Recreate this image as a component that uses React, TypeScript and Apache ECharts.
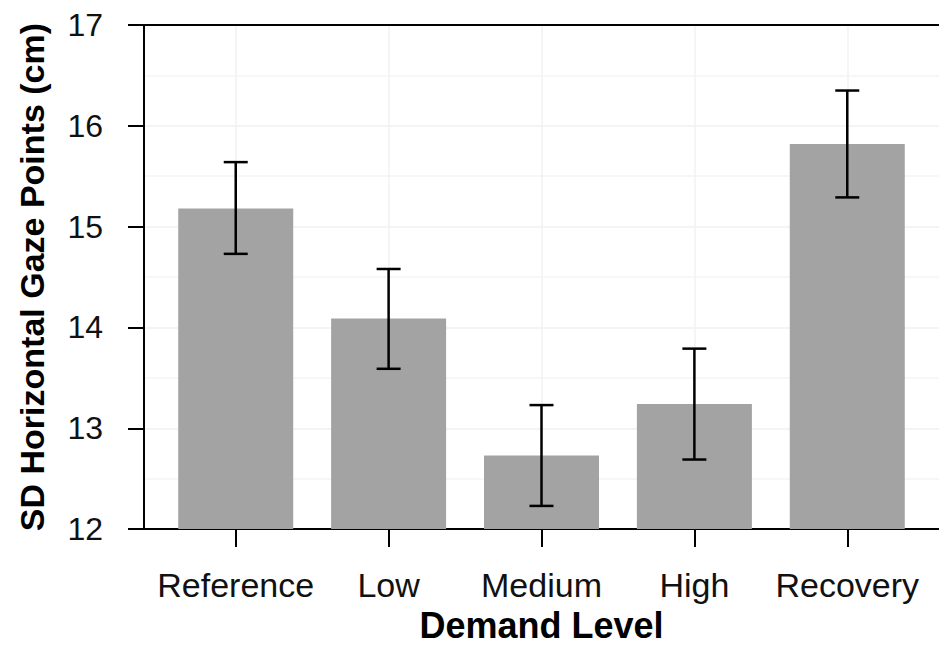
import React, { useEffect, useRef } from "react";
import * as echarts from "echarts";

const categories = ["Reference", "Low", "Medium", "High", "Recovery"];
const positions = [1, 2, 3, 4, 5];
const means = [15.18, 14.09, 12.73, 13.24, 15.82];
const errLow = [14.73, 13.59, 12.23, 12.69, 15.29];
const errHigh = [15.64, 14.58, 13.23, 13.79, 16.35];
const yTicks = [12, 13, 14, 15, 16, 17];

const FONT = "'Liberation Sans', Arial, sans-serif";

export default function App() {
  const ref = useRef<HTMLDivElement>(null);
  useEffect(() => {
    if (!ref.current) return;
    const chart = echarts.init(ref.current, null, { renderer: "svg" });
    const option: any = {
      animation: false,
      backgroundColor: "#ffffff",
      grid: { left: 144, top: 25, width: 801, height: 510 },
      xAxis: [
        {
          type: "value",
          min: 0.4,
          max: 5.6,
          name: "Demand Level",
          nameLocation: "middle",
          nameGap: 75,
          nameTextStyle: { fontFamily: FONT, fontSize: 36, fontWeight: "bold", color: "#000" },
          axisLine: { show: true, onZero: false, lineStyle: { color: "#000", width: 2 } },
          axisTick: { show: true, length: 18, lineStyle: { color: "#000", width: 2 }, customValues: positions },
          axisLabel: {
            customValues: positions,
            margin: 39,
            fontFamily: FONT,
            fontSize: 34,
            color: "#111",
            formatter: (v: number) => categories[Math.round(v) - 1] ?? "",
          },
          splitLine: { show: false },
        },
        {
          type: "value",
          position: "top",
          min: 0.4,
          max: 5.6,
          axisLine: { show: true, onZero: false, lineStyle: { color: "#000", width: 2 } },
          axisTick: { show: false },
          axisLabel: { show: false },
          splitLine: { show: false },
        },
      ],
      yAxis: {
        type: "value",
        min: 12,
        max: 17,
        interval: 1,
        name: "SD Horizontal Gaze Points (cm)",
        nameLocation: "middle",
        nameGap: 95,
        nameTextStyle: { fontFamily: FONT, fontSize: 34, fontWeight: "bold", color: "#000" },
        axisLine: { show: true, onZero: false, lineStyle: { color: "#000", width: 2 } },
        axisTick: { show: true, length: 16, lineStyle: { color: "#000", width: 2 } },
        axisLabel: {
          margin: 41,
          fontFamily: FONT,
          fontSize: 32,
          color: "#111",
          formatter: (v: number) => (yTicks.includes(v) ? String(v) : ""),
        },
        splitLine: { show: true, lineStyle: { color: "#f0f0f0", width: 1.5 } },
        minorTick: { show: false, splitNumber: 2 },
        minorSplitLine: { show: true, lineStyle: { color: "#f5f5f5", width: 1.5 } },
      },
      series: [
        {
          type: "bar",
          xAxisIndex: 0,
          barWidth: 115,
          itemStyle: { color: "#a3a3a3" },
          data: positions.map((p, i) => [p, means[i]]),
          markLine: {
            silent: true,
            symbol: "none",
            label: { show: false },
            z: 0,
            lineStyle: { color: "#f2f2f2", width: 1.5, type: "solid" },
            data: positions.map((p) => ({ xAxis: p })),
          },
        },
        {
          type: "custom",
          xAxisIndex: 0,
          z: 5,
          data: positions.map((p, i) => [p, errLow[i], errHigh[i]]),
          renderItem: (params: any, api: any) => {
            const x = api.value(0);
            const lo = api.coord([x, api.value(1)]);
            const hi = api.coord([x, api.value(2)]);
            const hw = 12;
            const style = { stroke: "#000", lineWidth: 2.5 };
            return {
              type: "group",
              children: [
                { type: "line", shape: { x1: lo[0], y1: lo[1], x2: hi[0], y2: hi[1] }, style },
                { type: "line", shape: { x1: hi[0] - hw, y1: hi[1], x2: hi[0] + hw, y2: hi[1] }, style },
                { type: "line", shape: { x1: lo[0] - hw, y1: lo[1], x2: lo[0] + hw, y2: lo[1] }, style },
              ],
            };
          },
        },
      ],
    };
    chart.setOption(option);
    return () => chart.dispose();
  }, []);
  return (
    <div
      ref={ref}
      style={{ position: "fixed", left: 0, top: 0, width: 939, height: 648, background: "#fff" }}
    />
  );
}
